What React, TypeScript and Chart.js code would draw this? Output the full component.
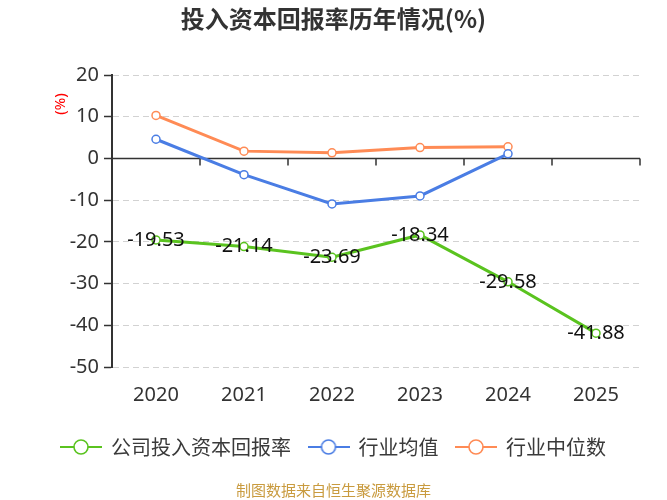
import React, { useEffect, useRef } from 'react';
import { Chart, registerables } from 'chart.js';

Chart.register(...registerables);

// Years on the category axis
const years = ['2020', '2021', '2022', '2023', '2024', '2025'];
// Return on invested capital, %
const companyRoic = [-19.53, -21.14, -23.69, -18.34, -29.58, -41.88];
const industryMean = [4.6, -3.9, -10.9, -9.0, 1.1, null];
const industryMedian = [10.3, 1.75, 1.35, 2.6, 2.8, null];
// Value axis range
const yMin = -50;
const yMax = 20;
const yStep = 10;

const seriesNames = ['公司投入资本回报率', '行业均值', '行业中位数'];
const seriesColors = ['#5ac31f', '#4a7de4', '#ff8b55'];

const titleText = '投入资本回报率历年情况(%)';
const unitText = '(%)';
const sourceText = '制图数据来自恒生聚源数据库';

const NUM_FONT = "'Noto Sans', 'Noto Sans CJK SC', sans-serif";
const CJK_FONT = "'Noto Sans CJK SC', 'Noto Sans', sans-serif";
const AXIS_DARK = '#333333';

// Line-with-hollow-circle swatch for the legend
function makeLegendIcon(color: string): HTMLCanvasElement {
  const c = document.createElement('canvas');
  c.width = 42;
  c.height = 18;
  const g = c.getContext('2d')!;
  g.strokeStyle = color;
  g.lineWidth = 2;
  g.beginPath();
  g.moveTo(0, 9);
  g.lineTo(42, 9);
  g.stroke();
  g.beginPath();
  g.arc(21, 9, 7, 0, Math.PI * 2);
  g.fillStyle = '#ffffff';
  g.fill();
  g.lineWidth = 1.6;
  g.stroke();
  return c;
}

// Solid zero line with outward ticks at category boundaries
const zeroAxisPlugin = {
  id: 'zeroAxis',
  beforeDatasetsDraw(chart: any) {
    const { ctx, chartArea, scales } = chart;
    const x = scales.x;
    const y0 = scales.y.getPixelForValue(0);
    ctx.save();
    ctx.strokeStyle = AXIS_DARK;
    ctx.lineWidth = 1.5;
    ctx.beginPath();
    ctx.moveTo(chartArea.left, y0);
    ctx.lineTo(chartArea.right, y0);
    const half = (x.getPixelForValue(1) - x.getPixelForValue(0)) / 2;
    for (let i = 0; i < years.length; i++) {
      const bx = x.getPixelForValue(i) + half;
      ctx.moveTo(bx, y0);
      ctx.lineTo(bx, y0 + 7);
    }
    ctx.stroke();
    ctx.restore();
  },
};

// Value labels on the company series and the unit label beside the value axis
const labelsPlugin = {
  id: 'valueLabels',
  afterDatasetsDraw(chart: any) {
    const { ctx, chartArea } = chart;
    const meta = chart.getDatasetMeta(0);
    ctx.save();
    ctx.font = `20px ${NUM_FONT}`;
    ctx.fillStyle = '#111111';
    ctx.textAlign = 'center';
    ctx.textBaseline = 'middle';
    meta.data.forEach((pt: any, i: number) => {
      const v = companyRoic[i];
      if (v == null) return;
      ctx.fillText(v.toFixed(2), pt.x, pt.y);
    });
    ctx.restore();

    ctx.save();
    ctx.translate(chartArea.left - 51, chartArea.top + 29);
    ctx.rotate(-Math.PI / 2);
    ctx.font = `15px ${NUM_FONT}`;
    ctx.fillStyle = '#ff0000';
    ctx.textAlign = 'center';
    ctx.textBaseline = 'middle';
    ctx.fillText(unitText, 0, 0);
    ctx.restore();
  },
};

export default function App() {
  const canvasRef = useRef<HTMLCanvasElement | null>(null);

  useEffect(() => {
    if (!canvasRef.current) return;
    const icons = seriesColors.map(makeLegendIcon);
    const datasets = [companyRoic, industryMean, industryMedian].map((data, i) => ({
      label: seriesNames[i],
      data,
      borderColor: seriesColors[i],
      backgroundColor: seriesColors[i],
      borderWidth: 3,
      tension: 0,
      pointRadius: 4,
      pointBorderWidth: 1.5,
      pointBackgroundColor: '#ffffff',
      pointBorderColor: seriesColors[i],
      spanGaps: false,
    }));

    const chart = new Chart(canvasRef.current, {
      type: 'line',
      data: { labels: years, datasets },
      options: {
        animation: false,
        responsive: true,
        maintainAspectRatio: false,
        layout: { padding: { left: 0, right: 0, top: 0, bottom: 0 } },
        plugins: {
          tooltip: { enabled: false },
          title: {
            display: true,
            text: titleText,
            color: AXIS_DARK,
            font: { family: CJK_FONT, size: 24, weight: 'bold' },
            padding: { top: 4, bottom: 42.2 },
          },
          subtitle: {
            display: true,
            position: 'bottom',
            text: sourceText,
            color: '#c99b3f',
            font: { family: CJK_FONT, size: 15, weight: 'normal' },
            padding: { top: 14, bottom: 1 },
          },
          legend: {
            display: true,
            position: 'bottom',
            labels: {
              usePointStyle: true,
              pointStyleWidth: 40,
              boxHeight: 18,
              padding: 17.5,
              color: '#3a3a3a',
              font: { family: CJK_FONT, size: 20 },
              generateLabels(ch: any) {
                const base = Chart.defaults.plugins.legend.labels.generateLabels(ch);
                return base.map((item: any, i: number) => ({ ...item, pointStyle: icons[i] }));
              },
            },
          },
        },
        scales: {
          x: {
            type: 'category',
            offset: true,
            grid: { display: false },
            border: { display: false },
            ticks: {
              color: AXIS_DARK,
              font: { family: NUM_FONT, size: 20 },
              padding: 8,
              maxRotation: 0,
            },
            afterFit(scale: any) {
              scale.height = 52.5;
            },
          },
          y: {
            type: 'linear',
            min: yMin,
            max: yMax,
            ticks: {
              stepSize: yStep,
              color: AXIS_DARK,
              font: { family: NUM_FONT, size: 20 },
              padding: 5,
            },
            grid: {
              color: '#d2d2d2',
              lineWidth: 1,
              drawTicks: true,
              tickLength: 8,
              tickColor: AXIS_DARK,
              tickWidth: 1.5,
            },
            border: { display: true, color: AXIS_DARK, width: 2, dash: [6, 4] },
            afterFit(scale: any) {
              scale.width = 112;
            },
          },
          pad: {
            type: 'linear',
            position: 'right',
            display: true,
            grid: { display: false },
            border: { display: false },
            ticks: { display: false },
            afterFit(scale: any) {
              scale.width = 27;
            },
          },
        },
      } as any,
      plugins: [zeroAxisPlugin, labelsPlugin],
    });
    return () => chart.destroy();
  }, []);

  return (
    <div style={{ position: 'absolute', left: 0, top: 0, width: 667, height: 500, background: '#ffffff' }}>
      <canvas ref={canvasRef} />
    </div>
  );
}
